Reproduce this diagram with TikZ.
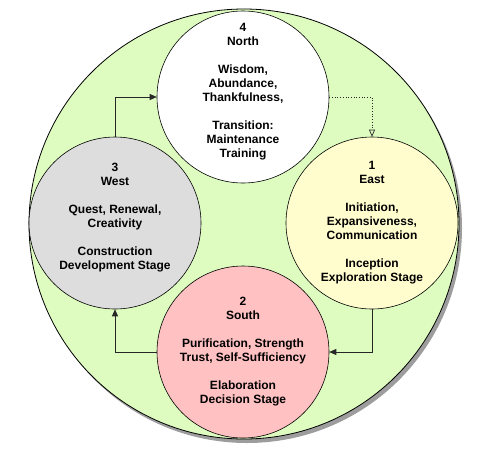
\documentclass[tikz,border=0pt]{standalone}
\usepackage{fontspec}
\setmainfont{Liberation Sans}
\usepackage{xcolor}
\usetikzlibrary{shadows}
\usetikzlibrary{shapes.geometric, positioning, arrows.meta, calc}

\definecolor{ringgreen}{RGB}{222,252,192}
\definecolor{eastyellow}{RGB}{255,253,206}
\definecolor{southpink}{RGB}{255,193,193}
\definecolor{westgray}{RGB}{221,221,221}

\begin{document}
\begin{tikzpicture}[
    x=1pt, y=-1pt,
    ring/.style={draw, circle, line width=0.8pt, minimum size=430pt, inner sep=0pt, fill=ringgreen,
        drop shadow={shadow xshift=3pt, shadow yshift=-4pt, opacity=0.55, fill=black!70}},
    stage/.style={draw, circle, line width=0.6pt, minimum size=172pt, inner sep=0pt, align=center,
        font=\bfseries\fontsize{12}{14}\selectfont},
    flow/.style={line width=0.7pt, draw=black!85, -{Triangle[length=7pt, width=6pt]}}
]
    \useasboundingbox (0,0) rectangle (495,456);

    % Outer circle
    \node[ring] (wheel) at (244,224) {};

    % Stages
    \node[stage, fill=white] (north) at (243,97)
        {4\\North\\[14pt]Wisdom,\\Abundance,\\Thankfulness,\\[14pt]Transition:\\Maintenance\\Training\\\mbox{}};
    \node[stage, fill=eastyellow] (east) at (372,223)
        {1\\East\\[14pt]Initiation,\\Expansiveness,\\Communication\\[14pt]Inception\\Exploration Stage};
    \node[stage, fill=southpink] (south) at (243,352)
        {2\\South\\[14pt]Purification, Strength\\Trust, Self-Sufficiency\\[14pt]Elaboration\\Decision Stage};
    \node[stage, fill=westgray] (west) at (115,223)
        {3\\West\\[14pt]Quest, Renewal,\\Creativity\\[14pt]Construction\\Development Stage\\\mbox{}};

    % Connections
    \draw[flow] (west.north) |- (north.west);
    \draw[flow, dotted, -{Triangle[open, length=7pt, width=6pt]}] (north.east) -| (east.north);
    \draw[flow] (east.south) |- (south.east);
    \draw[flow] (south.west) -| (west.south);
\end{tikzpicture}
\end{document}
